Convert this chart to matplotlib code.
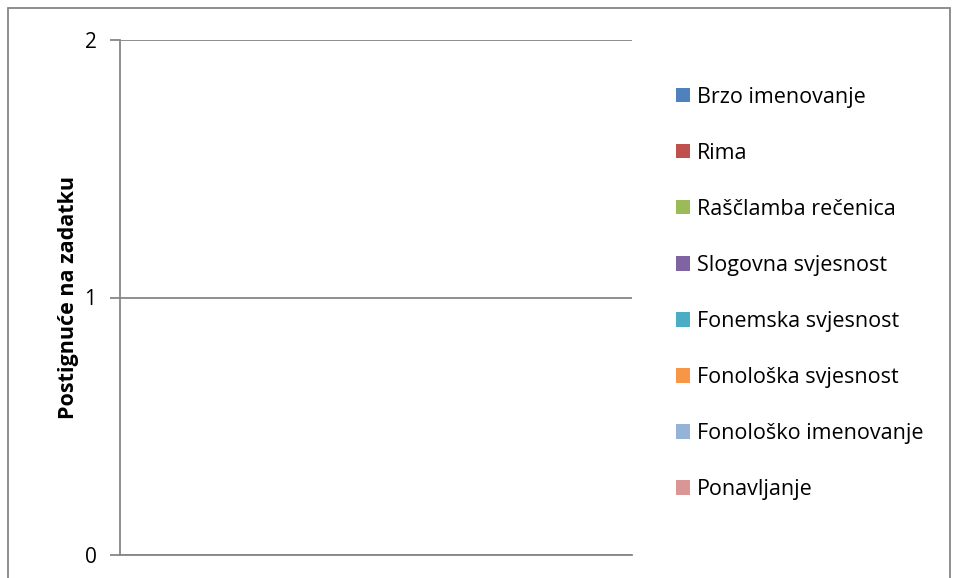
import matplotlib.pyplot as plt
from matplotlib.patches import Rectangle

# series (chart has no visible bars, only legend entries)
series = ["Brzo imenovanje", "Rima", "Raščlamba rečenica", "Slogovna svjesnost",
          "Fonemska svjesnost", "Fonološka svjesnost", "Fonološko imenovanje", "Ponavljanje"]
values = [0, 0, 0, 0, 0, 0, 0, 0]
colors = ["#4F81BD", "#C0504D", "#9BBB59", "#8064A2",
          "#4BACC6", "#F79646", "#95B3D7", "#D99694"]
yticks = [0, 1, 2]

plt.rcParams['font.family'] = ['Open Sans', 'DejaVu Sans']

fig = plt.figure(figsize=(9.56, 5.78), dpi=100)
ax = fig.add_axes([120/956, 1-555/578, (632-120)/956, (555-40)/578])

# outer chart border
fig.patches.append(Rectangle((8/956, -0.1), (950-8)/956, 1.1 - 8/578,
                             transform=fig.transFigure, fill=False,
                             edgecolor="#868686", lw=1.3))

n = len(series)
w = 0.8 / n
handles = []
for i in range(n):
    b = ax.bar(i*w, values[i], w, color=colors[i], label=series[i])
    handles.append(b)

ax.set_xlim(-0.5, 1)
ax.set_ylim(0, 2)
ax.set_yticks(yticks)
ax.set_xticks([])
ax.grid(axis='y', color="#868686", lw=1.3)
ax.set_axisbelow(True)
for s in ["top", "right"]:
    ax.spines[s].set_visible(False)
ax.spines["left"].set_color("#868686")
ax.spines["bottom"].set_color("#868686")
ax.spines["left"].set_linewidth(1.3)
ax.spines["bottom"].set_linewidth(1.3)
ax.tick_params(axis='y', length=7, color="#868686", width=1.3, labelsize=15, pad=10)
ax.set_ylabel("Postignuće na zadatku", fontsize=15.5, fontweight='bold', labelpad=4)

fig.legend(handles=handles, labels=series, loc='upper left',
           bbox_to_anchor=(667/956, 1-78/578), frameon=False, fontsize=15.5,
           handlelength=0.65, handleheight=0.65, handletextpad=0.35,
           labelspacing=1.63, borderaxespad=0)

fig.savefig("out.png", dpi=100)
